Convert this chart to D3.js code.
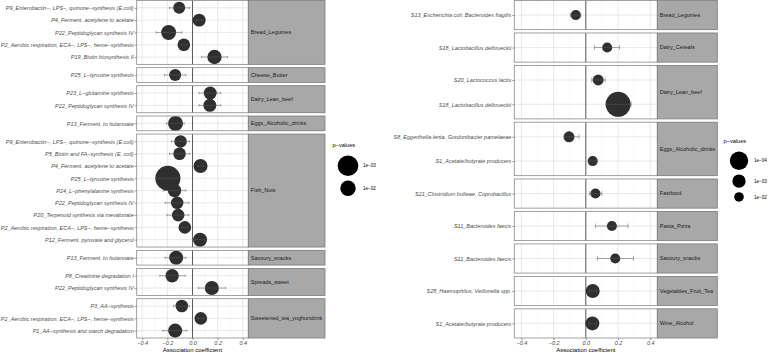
<!DOCTYPE html>
<html lang="en">
<head>
<meta charset="UTF-8">
<title>Association coefficients by food group</title>
<style>
  body { margin: 0; background: #fff; }
  svg { display: block; font-family: "Liberation Sans", Arial, sans-serif; }
  .ylab text, .xax text { font-style: italic; fill: #4d4d4d; font-size: 5.5px; }
  .ylab line, .xax line { stroke: #333; stroke-width: 0.5; }
  .strip text { font-size: 5.5px; fill: #1a1a1a; }
  .ttl { font-size: 6px; fill: #000; }
  .leg text { font-size: 4.6px; fill: #000; }
</style>
</head>
<body>
<svg id="chart" width="768" height="353"></svg>
<script src="https://d3js.org/d3.v7.min.js"></script>
<script>
// ---- left panel data (pathways) ----
const leftGroups = [
  "Bread_Legumes","Bread_Legumes","Bread_Legumes","Bread_Legumes","Bread_Legumes",
  "Cheese_Butter",
  "Dairy_Lean_beef","Dairy_Lean_beef",
  "Eggs_Alcoholic_drinks",
  "Fish_Nuts","Fish_Nuts","Fish_Nuts","Fish_Nuts","Fish_Nuts","Fish_Nuts","Fish_Nuts","Fish_Nuts","Fish_Nuts",
  "Savoury_snacks",
  "Spreads_sweet","Spreads_sweet",
  "Sweetened_tea_yoghurtdrink","Sweetened_tea_yoghurtdrink","Sweetened_tea_yoghurtdrink"
];
const leftLabels = [
  "P9_Enterobactin−, LPS−, quinone−synthesis (E.coli)",
  "P4_Ferment. acetylene to acetate",
  "P22_Peptidoglycan synthesis IV",
  "P2_Aerobic respiration, ECA−, LPS−, heme−synthesis",
  "P19_Biotin biosynthesis II",
  "P25_L−tyrosine synthesis",
  "P23_L−glutamine synthesis",
  "P22_Peptidoglycan synthesis IV",
  "P13_Ferment. to butanoate",
  "P9_Enterobactin−, LPS−, quinone−synthesis (E.coli)",
  "P5_Biotin and FA−synthesis (E. coli)",
  "P4_Ferment. acetylene to acetate",
  "P25_L−tyrosine synthesis",
  "P24_L−phenylalanine synthesis",
  "P22_Peptidoglycan synthesis IV",
  "P20_Terpenoid synthesis via mevalonate",
  "P2_Aerobic respiration, ECA−, LPS−, heme−synthesis",
  "P12_Ferment. pyruvate and glycerol",
  "P13_Ferment. to butanoate",
  "P8_Creatinine degradation I",
  "P22_Peptidoglycan synthesis IV",
  "P3_AA−synthesis",
  "P2_Aerobic respiration, ECA−, LPS−, heme−synthesis",
  "P1_AA−synthesis and starch degradation"
];
const leftCoef = [-0.106, 0.053, -0.19, -0.069, 0.175, -0.138, 0.141, 0.138, -0.135,
  -0.095, -0.103, 0.064, -0.196, -0.143, -0.122, -0.114, -0.061, 0.06,
  -0.13, -0.162, 0.154, -0.085, 0.066, -0.138];
const leftLow = [-0.183, 0.03, -0.29, -0.092, 0.072, -0.223, 0.053, 0.052, -0.207,
  -0.167, -0.183, 0.04, -0.27, -0.233, -0.217, -0.204, -0.085, 0.02,
  -0.217, -0.26, 0.048, -0.151, 0.042, -0.236];
const leftHigh = [-0.024, 0.076, -0.085, -0.046, 0.279, -0.053, 0.225, 0.225, -0.066,
  -0.024, -0.021, 0.088, -0.12, -0.053, -0.029, -0.029, -0.037, 0.1,
  -0.053, -0.058, 0.263, -0.024, 0.09, -0.045];
const leftP = [0.045, 0.03, 0.012, 0.035, 0.016, 0.045, 0.029, 0.029, 0.012,
  0.035, 0.035, 0.018, 1.4e-4, 0.024, 0.035, 0.035, 0.035, 0.018,
  0.018, 0.024, 0.018, 0.035, 0.035, 0.018];
const leftLegendP = [1e-3, 1e-2];

// ---- right panel data (species) ----
const rightGroups = [
  "Bread_Legumes", "Dairy_Cereals", "Dairy_Lean_beef", "Dairy_Lean_beef",
  "Eggs_Alcoholic_drinks", "Eggs_Alcoholic_drinks", "Fastfood", "Pasta_Pizza",
  "Savoury_snacks", "Vegetables_Fruit_Tea", "Wine_Alcohol"
];
const rightLabels = [
  "S13_Escherichia coli, Bacteroides fragilis",
  "S18_Lactobacillus delbrueckii",
  "S20_Lactococcus lactis",
  "S18_Lactobacillus delbrueckii",
  "S8_Eggerthella lenta, Gordonibacter pamelaeae",
  "S1_Acetate/butyrate producers",
  "S21_Clostridium bolteae, Coprobacillus",
  "S11_Bacteroides faecis",
  "S11_Bacteroides faecis",
  "S28_Haemophilus, Veillonella spp.",
  "S1_Acetate/butyrate producers"
];
const rightCoef = [-0.062, 0.133, 0.077, 0.201, -0.104, 0.043, 0.06, 0.162, 0.183, 0.043, 0.041];
const rightLow  = [-0.097, 0.054, 0.037, 0.125, -0.135, 0.025, 0.022, 0.06, 0.072, 0.022, 0.02];
const rightHigh = [-0.031, 0.209, 0.12, 0.282, -0.042, 0.061, 0.1, 0.262, 0.296, 0.067, 0.065];
const rightP = [0.007, 0.007, 0.004, 1e-5, 0.004, 0.007, 0.007, 0.007, 0.007, 7e-4, 7e-4];
const rightLegendP = [1e-4, 1e-3, 1e-2];

const xTicks = [-0.4, -0.2, 0, 0.2, 0.4];
const xMinor = [-0.3, -0.1, 0.1, 0.3];

const svg = d3.select("#chart");
const fmt = d => d3.format(".1f")(d).replace("-", "−");

function drawChart(cfg) {
  const rows = cfg.groups.map((g, i) => ({
    group: g, label: cfg.labels[i], id: i,
    coef: cfg.coef[i], lo: cfg.low[i], hi: cfg.high[i], p: cfg.p[i]
  }));
  const facets = [...new Set(cfg.groups)];
  const counts = facets.map(f => rows.filter(r => r.group === f).length);
  const top = 0.5, bottom = 338, gap = 3.3;
  const totalUnits = d3.sum(counts, c => c + 0.2);
  const unit = (bottom - top - gap * (facets.length - 1)) / totalUnits;

  const x = d3.scaleLinear().domain([-0.444, 0.444]).range([cfg.x0, cfg.x1]);
  const g = svg.append("g");

  let y0 = top;
  facets.forEach((f, fi) => {
    const h = (counts[fi] + 0.2) * unit;
    const data = rows.filter(r => r.group === f);
    const y = d3.scalePoint().domain(data.map(d => d.id)).range([y0, y0 + h]).padding(0.6);
    const step = counts[fi] === 1 ? unit : y.step();
    const p = g.append("g");

    p.append("rect").attr("x", cfg.x0).attr("y", y0).attr("width", cfg.x1 - cfg.x0).attr("height", h)
      .attr("fill", "#fff");
    p.selectAll(".mn").data(xMinor).join("line")
      .attr("x1", d => x(d)).attr("x2", d => x(d)).attr("y1", y0).attr("y2", y0 + h)
      .attr("stroke", "#f2f2f2").attr("stroke-width", 0.5);
    p.selectAll(".mj").data(xTicks).join("line")
      .attr("x1", d => x(d)).attr("x2", d => x(d)).attr("y1", y0).attr("y2", y0 + h)
      .attr("stroke", "#e3e3e3").attr("stroke-width", 0.8);
    p.selectAll(".hz").data(data).join("line")
      .attr("x1", cfg.x0).attr("x2", cfg.x1).attr("y1", d => y(d.id)).attr("y2", d => y(d.id))
      .attr("stroke", "#e3e3e3").attr("stroke-width", 0.8);
    p.append("line").attr("x1", x(0)).attr("x2", x(0)).attr("y1", y0).attr("y2", y0 + h)
      .attr("stroke", "#4d4d4d").attr("stroke-width", 0.9);

    // points then error bars
    p.selectAll(".pt").data(data).join("circle")
      .attr("cx", d => x(d.coef)).attr("cy", d => y(d.id)).attr("r", d => cfg.r(-Math.log10(d.p)))
      .attr("fill", "#2f2f2f");
    const cap = step * 0.1;
    const eb = p.selectAll(".eb").data(data).join("g").attr("stroke", "#5a5a5a").attr("stroke-width", 0.5);
    eb.append("line").attr("x1", d => x(d.lo)).attr("x2", d => x(d.hi)).attr("y1", d => y(d.id)).attr("y2", d => y(d.id));
    eb.append("line").attr("x1", d => x(d.lo)).attr("x2", d => x(d.lo)).attr("y1", d => y(d.id) - cap).attr("y2", d => y(d.id) + cap);
    eb.append("line").attr("x1", d => x(d.hi)).attr("x2", d => x(d.hi)).attr("y1", d => y(d.id) - cap).attr("y2", d => y(d.id) + cap);

    p.append("rect").attr("x", cfg.x0).attr("y", y0).attr("width", cfg.x1 - cfg.x0).attr("height", h)
      .attr("fill", "none").attr("stroke", "#8a8a8a").attr("stroke-width", 0.8);

    // y axis
    const ya = p.append("g").attr("class", "ylab").attr("transform", `translate(${cfg.x0},0)`)
      .call(d3.axisLeft(y).tickSize(2).tickPadding(1).tickFormat(id => rows[id].label));
    ya.select(".domain").remove();

    // strip
    const st = p.append("g").attr("class", "strip");
    st.append("rect").attr("x", cfg.x1).attr("y", y0).attr("width", cfg.sw).attr("height", h)
      .attr("fill", "#a8a8a8").attr("stroke", "#7a7a7a").attr("stroke-width", 0.8);
    st.append("text").attr("x", cfg.x1 + 2.5).attr("y", y0 + h / 2).attr("dy", "0.35em").text(f);

    y0 += h + gap;
  });

  const xa = g.append("g").attr("class", "xax").attr("transform", `translate(0,${bottom})`)
    .call(d3.axisBottom(x).tickValues(xTicks).tickSize(2).tickPadding(1).tickFormat(fmt));
  xa.select(".domain").remove();
  g.append("text").attr("class", "ttl").attr("x", (cfg.x0 + cfg.x1) / 2).attr("y", 351.5)
    .attr("text-anchor", "middle").text("Association coefficient");

  // size legend
  const leg = g.append("g").attr("class", "leg");
  leg.append("text").attr("x", cfg.lx).attr("y", cfg.ly).text("p−values").style("font-size", "5.6px");
  let cy = cfg.ly, prevR = 0;
  cfg.legendP.forEach((pv, i) => {
    const r = cfg.r(-Math.log10(pv));
    cy += i === 0 ? r + 8.5 : prevR + r + 4.5;
    leg.append("circle").attr("cx", cfg.lx + 15.5).attr("cy", cy).attr("r", r).attr("fill", "#000");
    leg.append("text").attr("x", cfg.lx + 30.5).attr("y", cy).attr("dy", "0.35em")
      .text(d3.format(".0e")(pv).replace("e-", "e−0"));
    prevR = r;
  });
}

drawChart({
  groups: leftGroups, labels: leftLabels, coef: leftCoef, low: leftLow, high: leftHigh, p: leftP,
  legendP: leftLegendP, x0: 136.7, x1: 248.3, sw: 76.7, lx: 332.5, ly: 147,
  r: d3.scaleLinear().domain([2, 3]).range([7.7, 10.3])
});
drawChart({
  groups: rightGroups, labels: rightLabels, coef: rightCoef, low: rightLow, high: rightHigh, p: rightP,
  legendP: rightLegendP, x0: 514.3, x1: 657.3, sw: 60, lx: 723.5, ly: 143,
  r: d3.scalePow().exponent(2).domain([0, 5]).range([3.33, 12.5])
});
</script>
</body>
</html>
